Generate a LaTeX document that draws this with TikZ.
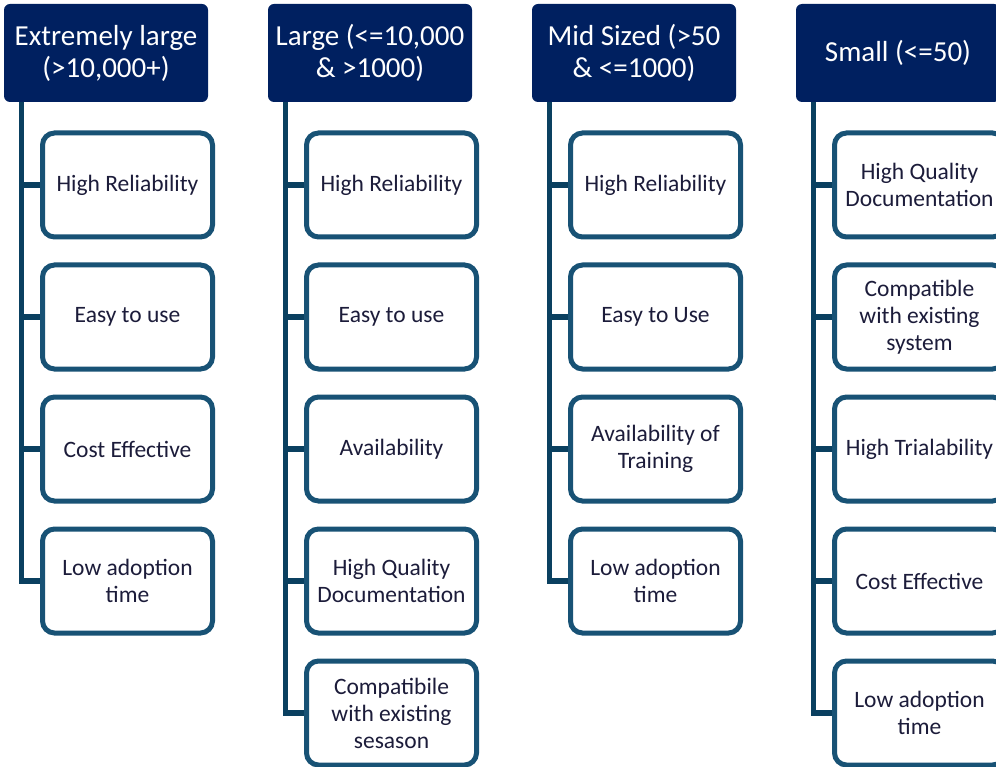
\documentclass[tikz,border=0pt]{standalone}
\usepackage{fontspec}
\setmainfont{Carlito}
\definecolor{hdrfill}{RGB}{0,32,96}
\definecolor{linecol}{RGB}{10,64,96}
\definecolor{boxcol}{RGB}{24,82,117}
\definecolor{txtcol}{RGB}{28,28,58}
\tikzset{
  hdr/.style={fill=hdrfill, draw=none, rounded corners=6pt, minimum width=204pt, minimum height=98pt,
    text=white, align=center, inner sep=0pt, font=\fontsize{29}{32}\selectfont},
  itembox/.style={draw=boxcol, line width=5pt, fill=white, rounded corners=12pt, minimum width=170pt,
    minimum height=104pt, text=txtcol, align=center, inner sep=0pt, font=\fontsize{23.5}{27}\selectfont},
  conn/.style={draw=linecol, line width=5.5pt, line join=miter}
}
\begin{document}
\begin{tikzpicture}[x=1pt,y=-1pt]
\useasboundingbox (0,0) rectangle (996,767);
\clip (0,0) rectangle (996,767);
% headers
\node[hdr] (h1) at (106,53) {Extremely large\\(>10,000+)};
\node[hdr] (h2) at (370,53) {Large (<=10,000\\\& >1000)};
\node[hdr] (h3) at (634,53) {Mid Sized (>50\\\& <=1000)};
\node[hdr] (h4) at (898,53) {Small (<=50)};
\coordinate (l1) at (21.5,102);
\coordinate (l2) at (285.5,102);
\coordinate (l3) at (549.5,102);
\coordinate (l4) at (813.5,102);
% column 1
\node[itembox] (b11) at (127.5,185) {High Reliability};
\node[itembox] (b12) at (127.5,317) {Easy to use};
\node[itembox] (b13) at (127.5,449) {Cost Effective};
\node[itembox] (b14) at (127.5,581) {Low adoption\\time};
% column 2
\node[itembox] (b21) at (391.5,185) {High Reliability};
\node[itembox] (b22) at (391.5,317) {Easy to use};
\node[itembox] (b23) at (391.5,449) {Availability};
\node[itembox] (b24) at (391.5,581) {High Quality\\Documentation};
\node[itembox] (b25) at (391.5,713) {Compatibile\\with existing\\sesason};
% column 3
\node[itembox] (b31) at (655.5,185) {High Reliability};
\node[itembox] (b32) at (655.5,317) {Easy to Use};
\node[itembox] (b33) at (655.5,449) {Availability of\\Training};
\node[itembox] (b34) at (655.5,581) {Low adoption\\time};
% column 4
\node[itembox] (b41) at (919.5,185) {High Quality\\Documentation};
\node[itembox] (b42) at (919.5,317) {Compatible\\with existing\\system};
\node[itembox] (b43) at (919.5,449) {High Trialability};
\node[itembox] (b44) at (919.5,581) {Cost Effective};
\node[itembox] (b45) at (919.5,713) {Low adoption\\time};
% connectors
\begin{scope}[on background layer/.try]
\foreach \b in {b11,b12,b13,b14} \draw[conn] (l1) |- (\b.west);
\foreach \b in {b21,b22,b23,b24,b25} \draw[conn] (l2) |- (\b.west);
\foreach \b in {b31,b32,b33,b34} \draw[conn] (l3) |- (\b.west);
\foreach \b in {b41,b42,b43,b44,b45} \draw[conn] (l4) |- (\b.west);
\end{scope}
\end{tikzpicture}
\end{document}
